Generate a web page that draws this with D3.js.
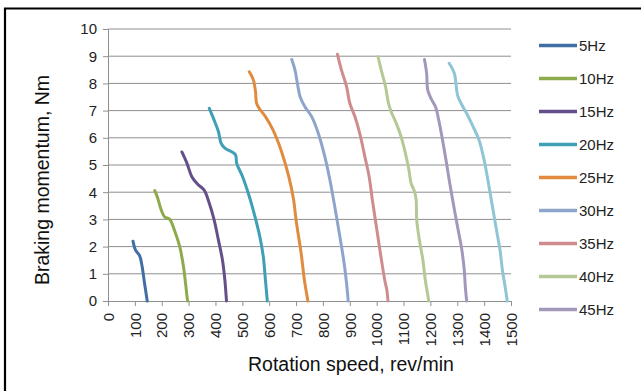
<!DOCTYPE html>
<html>
<head>
<meta charset="utf-8">
<script src="https://cdn.jsdelivr.net/npm/d3@7/dist/d3.min.js"></script>
<style>
  body { margin: 0; background: #fff; }
  svg { display: block; font-family: "Liberation Sans", Arial, sans-serif; }
</style>
</head>
<body>
<svg id="chart" width="641" height="391"></svg>
<script>
// series labels and colours (the last series is not listed in the legend)
const seriesNames = ['5Hz', '10Hz', '15Hz', '20Hz', '25Hz', '30Hz', '35Hz', '40Hz', '45Hz', '50Hz'];
const seriesColors = ['#416fa3', '#8dab4c', '#654f8a', '#3e9fb5', '#e08b3e',
  '#8ea5cb', '#cf8c8f', '#b5c996', '#a397bb', '#8fc5d5'];

// [rotation speed, braking momentum]
const s5 = [[93, 2.2], [102, 1.88], [118, 1.66], [127, 1.27], [136, 0.65], [146, 0]];
const s10 = [[174, 4.06], [183, 3.84], [198, 3.35], [210, 3.1], [230, 3.0], [247, 2.61],
  [267, 2.0], [281, 1.26], [290, 0.53], [296, 0]];
const s15 = [[275, 5.48], [294, 5.06], [312, 4.57], [333, 4.3], [358, 4.08], [377, 3.59],
  [395, 2.98], [411, 2.24], [426, 1.51], [435, 0.77], [441, 0]];
const s20 = [[377, 7.08], [395, 6.65], [411, 6.23], [421, 5.8], [436, 5.61], [460, 5.49],
  [475, 5.37], [479, 5.06], [501, 4.57], [526, 3.84], [547, 3.1], [565, 2.37],
  [578, 1.63], [586, 0.77], [593, 0]];
const s25 = [[526, 8.43], [541, 8.13], [549, 7.7], [553, 7.27], [565, 7.05], [586, 6.78],
  [614, 6.29], [646, 5.49], [673, 4.57], [691, 3.71], [700, 2.98], [719, 1.75],
  [731, 0.77], [744, 0]];
const s30 = [[684, 8.88], [696, 8.49], [705, 8.0], [715, 7.51], [733, 7.14], [758, 6.78],
  [783, 6.16], [807, 5.31], [826, 4.45], [844, 3.47], [863, 2.37], [879, 1.38],
  [888, 0.65], [894, 0]];
const s35 = [[854, 9.07], [869, 8.49], [888, 7.88], [900, 7.27], [919, 6.78], [937, 6.16],
  [956, 5.31], [972, 4.57], [984, 3.71], [999, 2.73], [1014, 1.75], [1030, 0.77],
  [1038, 0.4], [1042, 0]];
const s40 = [[1005, 8.98], [1017, 8.49], [1033, 7.88], [1044, 7.27], [1054, 6.96],
  [1073, 6.53], [1091, 6.04], [1107, 5.43], [1120, 4.82], [1128, 4.33], [1141, 4.02],
  [1147, 3.71], [1149, 2.98], [1159, 2.24], [1172, 1.51], [1181, 0.77], [1194, 0]];
const s45 = [[1178, 8.88], [1186, 8.37], [1190, 7.76], [1202, 7.45], [1219, 7.14],
  [1231, 6.65], [1243, 6.04], [1258, 5.18], [1270, 4.45], [1285, 3.59], [1301, 2.73],
  [1317, 1.88], [1326, 1.14], [1330, 0.53], [1335, 0]];
const s50 = [[1270, 8.74], [1289, 8.37], [1295, 8.0], [1301, 7.57], [1314, 7.27],
  [1338, 6.84], [1359, 6.41], [1381, 5.92], [1400, 5.18], [1416, 4.33], [1431, 3.47],
  [1446, 2.61], [1459, 1.88], [1468, 1.14], [1478, 0.53], [1486, 0]];

const seriesData = [s5, s10, s15, s20, s25, s30, s35, s40, s45, s50];
const xTicks = d3.range(0, 1501, 100);
const yTicks = d3.range(0, 11, 1);

const svg = d3.select('#chart');
const margin = {left: 108, right: 130, top: 29, bottom: 90};
const width = 641 - margin.left - margin.right;
const height = 391 - margin.top - margin.bottom;

// outer frame (only top and left edges are visible in the picture)
svg.append('path')
  .attr('d', 'M5,391 V8.5 H641')
  .attr('fill', 'none')
  .attr('stroke', '#000')
  .attr('stroke-width', 2.2);

const x = d3.scaleLinear().domain([0, 1500]).range([0, width]);
const y = d3.scaleLinear().domain([0, 10]).range([height, 0]);

const g = svg.append('g').attr('transform', `translate(${margin.left},${margin.top})`);

// gridlines
g.append('g')
  .selectAll('line')
  .data(yTicks.filter(d => d > 0))
  .join('line')
  .attr('x1', 0)
  .attr('x2', width)
  .attr('y1', d => y(d))
  .attr('y2', d => y(d))
  .attr('stroke', '#8f8f8f')
  .attr('stroke-width', 1);

const yAxis = g.append('g')
  .call(d3.axisLeft(y).tickValues(yTicks).tickSize(5).tickPadding(6));
yAxis.select('.domain').attr('stroke', '#8f8f8f');
yAxis.selectAll('.tick line').attr('stroke', '#8f8f8f');
yAxis.selectAll('text').attr('font-size', 15).attr('fill', '#222');

const xAxis = g.append('g')
  .attr('transform', `translate(0,${height})`)
  .call(d3.axisBottom(x).tickValues(xTicks).tickFormat(d3.format('d'))
    .tickSize(5).tickSizeOuter(0));
xAxis.select('.domain').attr('stroke', '#8f8f8f');
xAxis.selectAll('.tick line').attr('stroke', '#8f8f8f');
xAxis.selectAll('text')
  .attr('font-size', 15)
  .attr('fill', '#222')
  .attr('transform', 'rotate(-90)')
  .attr('text-anchor', 'end')
  .attr('x', -12)
  .attr('y', 0)
  .attr('dy', '0.35em');

// series lines
const line = d3.line()
  .x(d => x(d[0]))
  .y(d => y(d[1]))
  .curve(d3.curveCatmullRom.alpha(0.5));

g.append('g')
  .selectAll('path')
  .data(seriesData)
  .join('path')
  .attr('d', line)
  .attr('fill', 'none')
  .attr('stroke', (d, i) => seriesColors[i])
  .attr('stroke-width', 3)
  .attr('stroke-linecap', 'round')
  .attr('stroke-linejoin', 'round');

// axis titles
svg.append('text')
  .attr('x', 351)
  .attr('y', 371)
  .attr('text-anchor', 'middle')
  .attr('font-size', 19.5)
  .attr('fill', '#111')
  .text('Rotation speed, rev/min');

svg.append('text')
  .attr('transform', 'translate(49,180) rotate(-90)')
  .attr('text-anchor', 'middle')
  .attr('font-size', 19.5)
  .attr('fill', '#111')
  .text('Braking momentum, Nm');

// legend
const legend = svg.append('g')
  .selectAll('g')
  .data(seriesNames.slice(0, 9))
  .join('g')
  .attr('transform', (d, i) => `translate(539,${45.5 + i * 33})`);

legend.append('line')
  .attr('x1', 0)
  .attr('x2', 38)
  .attr('stroke', (d, i) => seriesColors[i])
  .attr('stroke-width', 3.5);

legend.append('text')
  .attr('x', 40)
  .attr('dy', '0.36em')
  .attr('font-size', 15)
  .attr('fill', '#222')
  .text(d => d);
</script>
</body>
</html>
